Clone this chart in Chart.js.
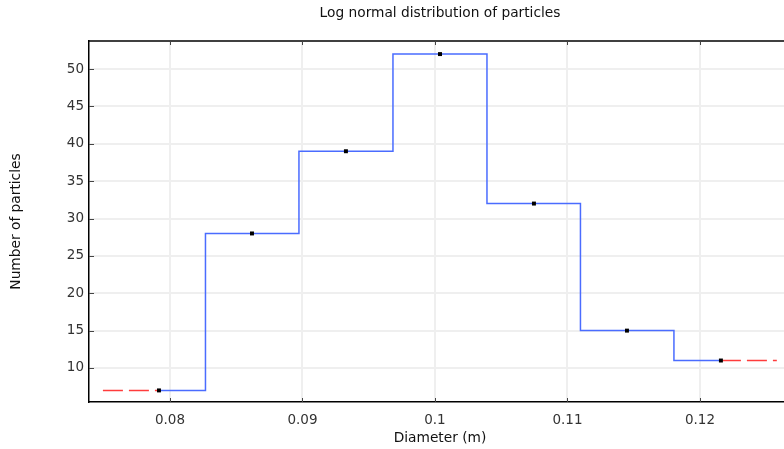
<!DOCTYPE html>
<html><head><meta charset="utf-8">
<script src="https://cdn.jsdelivr.net/npm/chart.js@4"></script>
<style>html,body{margin:0;padding:0;overflow:hidden;background:#fff}</style>
</head><body>
<canvas id="c" width="800" height="449"></canvas>
<script>
const diameters = [0.07917, 0.08619, 0.09328, 0.10038, 0.10747, 0.11449, 0.12158];
const counts = [7, 28, 39, 52, 32, 15, 11];
const leftExtrapX = [0.07494, 0.07917];
const leftExtrapY = [7, 7];
const rightExtrapX = [0.12158, 0.1258];
const rightExtrapY = [11, 11];
const xTicks = [0.08, 0.09, 0.1, 0.11, 0.12];
const yTicks = [10, 15, 20, 25, 30, 35, 40, 45, 50];

Chart.defaults.font.family = 'DejaVu Sans';
Chart.defaults.font.size = 13.5;
Chart.defaults.color = '#222';

const pts = (xs, ys) => xs.map((x, i) => ({x: x, y: ys[i]}));

const frame = {
  id: 'frame',
  beforeDatasetsDraw(chart) {
    const {ctx, chartArea: a, scales: {x, y}} = chart;
    ctx.save();
    ctx.strokeStyle = '#000';
    ctx.lineWidth = 1.5;
    ctx.beginPath();
    ctx.moveTo(a.left, a.top); ctx.lineTo(a.right, a.top);
    ctx.stroke();
    ctx.strokeStyle = '#444';
    ctx.lineWidth = 1;
    ctx.beginPath();
    xTicks.forEach(v => {
      const px = Math.round(x.getPixelForValue(v)) + 0.5;
      ctx.moveTo(px, a.bottom); ctx.lineTo(px, a.bottom - 4);
      ctx.moveTo(px, a.top); ctx.lineTo(px, a.top + 4);
    });
    yTicks.forEach(v => {
      const py = Math.round(y.getPixelForValue(v)) + 0.5;
      ctx.moveTo(a.left, py); ctx.lineTo(a.left + 5, py);
    });
    ctx.stroke();
    ctx.restore();
  }
};

const titleFont = {size: 13.75, weight: 'normal'};

new Chart(document.getElementById('c'), {
  type: 'line',
  data: {
    datasets: [
      {
        data: pts(diameters, counts),
        stepped: 'middle',
        borderColor: 'rgb(74,108,255)',
        borderWidth: 1.5,
        pointStyle: 'rect',
        pointRadius: 2.8,
        pointBackgroundColor: '#000',
        pointBorderColor: '#000',
        pointBorderWidth: 0,
        order: 0
      },
      {
        data: pts(leftExtrapX, leftExtrapY),
        borderColor: 'rgb(255,60,60)',
        borderWidth: 1.5,
        borderDash: [20, 6],
        pointRadius: 0,
        order: 1
      },
      {
        data: pts(rightExtrapX, rightExtrapY),
        borderColor: 'rgb(255,60,60)',
        borderWidth: 1.5,
        borderDash: [20, 6],
        pointRadius: 0,
        order: 1
      }
    ]
  },
  options: {
    responsive: false,
    animation: false,
    layout: {padding: {left: 0, right: 9, top: 0, bottom: 0}},
    plugins: {
      legend: {display: false},
      tooltip: {enabled: false},
      title: {
        display: true,
        fullSize: false,
        text: 'Log normal distribution of particles',
        font: titleFont,
        color: '#111',
        padding: {top: 4.75, bottom: 19.75}
      }
    },
    scales: {
      x: {
        type: 'linear',
        min: 0.07389,
        max: 0.12687,
        afterBuildTicks: s => { s.ticks = xTicks.map(v => ({value: v})); },
        afterFit: s => { s.height = 47; },
        ticks: {
          padding: 10,
          color: '#333',
          callback: v => parseFloat(Number(v).toFixed(4)).toString()
        },
        grid: {color: '#efefef', lineWidth: 2, drawTicks: false},
        border: {color: '#000', width: 1.5},
        title: {display: true, text: 'Diameter (m)', color: '#111', font: titleFont, padding: {top: 0, bottom: 2.75}}
      },
      y: {
        type: 'linear',
        min: 5.45,
        max: 53.75,
        afterBuildTicks: s => { s.ticks = yTicks.map(v => ({value: v})); },
        afterFit: s => { s.width = 89; },
        ticks: {padding: 5, color: '#333'},
        grid: {color: '#efefef', lineWidth: 2, drawTicks: false},
        border: {color: '#000', width: 1.5},
        title: {display: true, text: 'Number of particles', color: '#111', font: titleFont, padding: {top: 7.75, bottom: 0}}
      }
    }
  },
  plugins: [frame]
});
</script>
</body></html>
